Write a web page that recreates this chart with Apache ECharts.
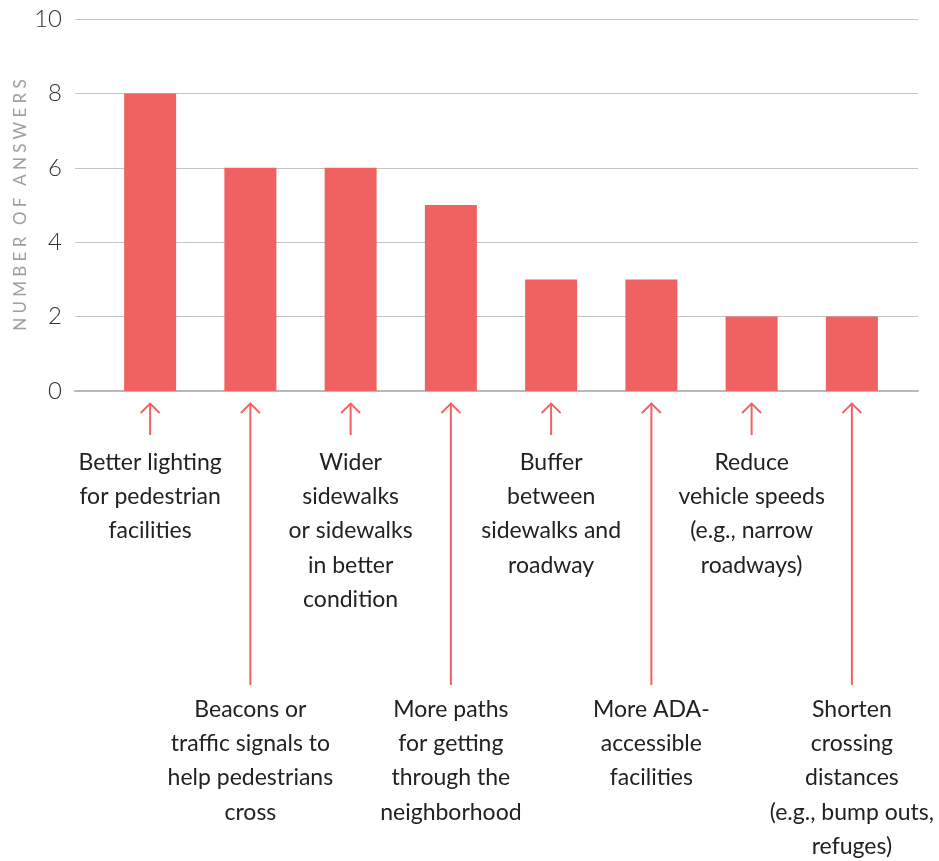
<!DOCTYPE html>
<html>
<head>
<meta charset="utf-8">
<script src="https://cdn.jsdelivr.net/npm/echarts@6/dist/echarts.min.js"></script>
<style>
  html, body { margin: 0; padding: 0; background: #fff; }
  #chart { width: 939px; height: 861px; }
</style>
</head>
<body>
<div id="chart"></div>
<script>
// categories, each line of the label kept as it wraps in the picture
const categories = [
  ['Better lighting', 'for pedestrian', 'facilities'],
  ['Beacons or', 'traffic signals to', 'help pedestrians', 'cross'],
  ['Wider', 'sidewalks', 'or sidewalks', 'in better', 'condition'],
  ['More paths', 'for getting', 'through the', 'neighborhood'],
  ['Buffer', 'between', 'sidewalks and', 'roadway'],
  ['More ADA-', 'accessible', 'facilities'],
  ['Reduce', 'vehicle speeds', '(e.g., narrow', 'roadways)'],
  ['Shorten', 'crossing', 'distances', '(e.g., bump outs,', 'refuges)']
];
const answers = [8, 6, 6, 5, 3, 3, 2, 2];
const yTicks = [0, 2, 4, 6, 8, 10];

const barColor = '#F06261';
const font = 'Lato';

const chartDom = document.getElementById('chart');
const myChart = echarts.init(chartDom, null, { renderer: 'canvas' });

// spaced out capitals for the axis name
const spaced = (s) => s.split('').join('\u2009\u200A\u200A');

const yMin = yTicks[0];
const yMax = yTicks[yTicks.length - 1];

const option = {
    animation: false,
    grid: [
        // wide grid: gridlines and tick labels
        { left: 75, right: 21, top: 19, bottom: 470, outerBoundsMode: 'none' },
        // inner grid: the bars
        { left: 100, right: 37, top: 19, bottom: 470, outerBoundsMode: 'none' }
    ],
    xAxis: [
        {
            gridIndex: 0,
            type: 'value',
            min: 0,
            max: 1,
            axisLine: { show: true, lineStyle: { color: '#b8b8b8', width: 2 } },
            axisTick: { show: false },
            axisLabel: { show: false },
            splitLine: { show: false }
        },
        {
            gridIndex: 1,
            type: 'category',
            data: categories.map((c, i) => String(i)),
            axisLine: { show: false },
            axisTick: { show: false },
            axisLabel: {
                interval: 0,
                hideOverlap: false,
                margin: 54,
                formatter: (value, index) => {
                    const lines = categories[index].map((l) => '{t|' + l + '}');
                    if (index % 2 === 1) lines.unshift('{sp|}');
                    return lines.join('\n');
                },
                rich: {
                    t: { fontFamily: font, fontSize: 23, color: '#222', lineHeight: 34.4 },
                    sp: { height: 247, lineHeight: 247 }
                }
            }
        }
    ],
    yAxis: [
        {
            gridIndex: 0,
            type: 'value',
            min: yMin,
            max: yMax,
            interval: 2,
            name: spaced('NUMBER') + '\u2002\u2009\u200A' + spaced('OF') + '\u2002\u2009\u200A' + spaced('ANSWERS'),
            nameLocation: 'middle',
            nameGap: 46,
            nameMoveOverlap: false,
            nameRotate: 90,
            nameTextStyle: { fontFamily: font, fontSize: 17, color: '#a0a0a0' },
            axisLine: { show: false },
            axisTick: { show: false },
            axisLabel: {
                margin: 13,
                fontFamily: font,
                fontWeight: 300,
                fontSize: 24,
                color: '#333'
            },
            splitLine: { lineStyle: { color: '#c4c4c4', width: 1.2 } }
        },
        {
            gridIndex: 1,
            type: 'value',
            min: yMin,
            max: yMax,
            interval: 2,
            show: false,
            splitLine: { show: false }
        }
    ],
    series: [{
        type: 'bar',
        xAxisIndex: 1,
        yAxisIndex: 1,
        data: answers,
        barWidth: 52,
        itemStyle: { color: barColor }
    }]
};

myChart.setOption(option);

// arrows pointing from the labels up to the bars
const y0 = myChart.convertToPixel({ yAxisIndex: 1 }, 0);
const tipY = y0 + 12;
const graphics = [];
categories.forEach((c, i) => {
    const x = myChart.convertToPixel({ xAxisIndex: 1 }, String(i));
    const endY = i % 2 === 1 ? y0 + 294 : y0 + 44;
    graphics.push({
        type: 'line',
        shape: { x1: x, y1: tipY, x2: x, y2: endY },
        style: { stroke: barColor, lineWidth: 2 }
    });
    graphics.push({
        type: 'polyline',
        shape: { points: [[x - 9.5, tipY + 10], [x, tipY + 0.5], [x + 9.5, tipY + 10]] },
        style: { stroke: barColor, lineWidth: 1.8, fill: null }
    });
});
myChart.setOption({ graphic: graphics });
</script>
</body>
</html>
